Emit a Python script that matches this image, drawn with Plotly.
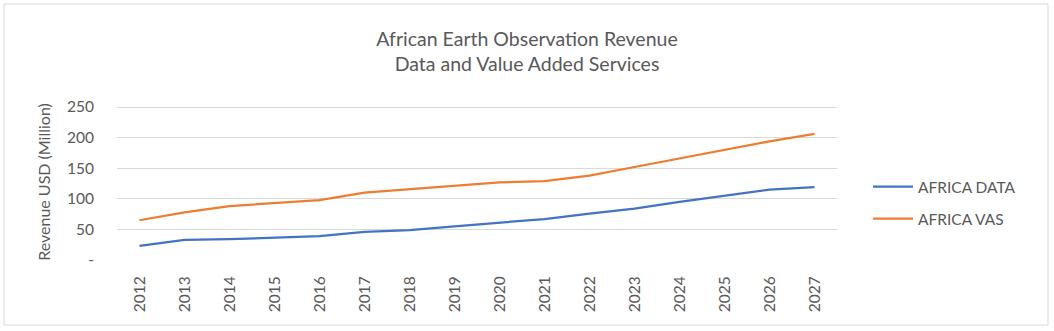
import plotly.graph_objects as go

years = [str(y) for y in range(2012, 2028)]
africa_data = [23, 33, 34, 37, 39, 46, 49, 55, 61, 67, 76, 84, 95, 105, 115, 119]
africa_vas = [65, 78, 88, 93, 98, 110, 116, 122, 127, 129, 138, 152, 166, 181, 194, 206]
y_ticks = [0, 50, 100, 150, 200, 250]
y_tick_labels = ["-", "50", "100", "150", "200", "250"]

W, H = 1054, 331
L, R, T, B = 117, 217, 104, 71
pw, ph = W - L - R, H - T - B

font = "Lato, 'Open Sans', sans-serif"
grey = "#595959"

fig = go.Figure()
fig.add_trace(go.Scatter(x=years, y=africa_data, mode="lines", name="AFRICA DATA",
                         legendgroup="a", line=dict(color="#4472C4", width=2.25)))
fig.add_trace(go.Scatter(x=years, y=africa_vas, mode="lines", name="AFRICA VAS",
                         legendgroup="b", line=dict(color="#ED7D31", width=2.25)))

fig.update_layout(
    width=W, height=H,
    margin=dict(l=L, r=R, t=T, b=B),
    paper_bgcolor="white", plot_bgcolor="white",
    font=dict(family=font, color=grey, size=15),
    title=dict(text="African Earth Observation Revenue<br>Data and Value Added Services",
               x=0.5, xanchor="center", y=1 - 46 / H, yanchor="middle",
               font=dict(size=19.5, color=grey, family=font)),
    legend=dict(x=(868 - L) / pw, y=1 - (170 - T) / ph,
                xanchor="left", yanchor="top", font=dict(size=15.5, color=grey),
                tracegroupgap=9, itemwidth=40, bgcolor="rgba(0,0,0,0)"),
    xaxis=dict(type="category", range=[-0.5, 15.5], tickangle=-90, showgrid=False,
               showline=False, ticks="outside", ticklen=9, tickcolor="rgba(0,0,0,0)",
               tickfont=dict(size=15.5, color=grey)),
    yaxis=dict(range=[0, 255], tickvals=y_ticks, ticktext=y_tick_labels,
               showgrid=True, gridcolor="#D9D9D9", gridwidth=1, zeroline=False,
               showline=False, ticks="outside", ticklen=19, tickcolor="rgba(0,0,0,0)",
               title=dict(text="Revenue USD (Million)", standoff=12,
                          font=dict(size=16, color=grey)),
               tickfont=dict(size=15.5, color=grey)),
    shapes=[dict(type="rect", xref="paper", yref="paper",
                 x0=(4 - L) / pw, x1=(1048 - L) / pw,
                 y0=(H - 325 - B) / ph, y1=(H - 4 - B) / ph,
                 line=dict(color="#D9D9D9", width=1), fillcolor="rgba(0,0,0,0)", layer="below")],
)
fig.write_html("out.html")
